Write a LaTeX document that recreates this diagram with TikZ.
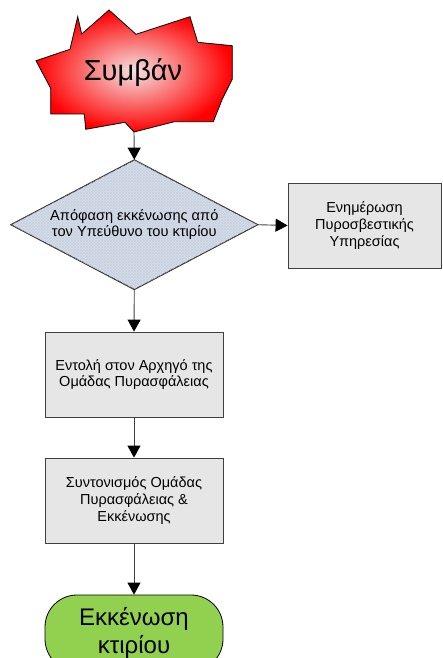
\documentclass[tikz,border=0pt]{standalone}
\usepackage{fontspec}
\setmainfont{Liberation Sans}
\usetikzlibrary{shapes.geometric,arrows.meta,patterns}
\definecolor{linegray}{HTML}{404040}
\definecolor{boxgray}{HTML}{E6E6E6}
\definecolor{diafill}{HTML}{D6DEEA}
\definecolor{diahatch}{HTML}{C8D1DE}
\definecolor{burstin}{HTML}{F4E2E2}
\definecolor{burstout}{HTML}{FF0000}
\definecolor{termgreen}{HTML}{92D050}
\tikzset{
  conn/.style={draw=linegray, line width=0.9pt, -{Triangle[width=13pt,length=12pt,color=black]}},
  procbox/.style={draw=linegray, line width=0.8pt, fill=boxgray, minimum width=178pt, minimum height=85pt, align=center, inner sep=2pt, font=\fontsize{14.5}{16.7}\selectfont},
  decbox/.style={shape=diamond, aspect=1.9, inner sep=0pt, draw=linegray, line width=0.8pt, fill=diafill, minimum width=246.7pt, minimum height=129.3pt},
  dectext/.style={align=center, font=\fontsize{14.6}{16.5}\selectfont},
  termbox/.style={draw=black, line width=0.8pt, fill=termgreen, rounded corners=32pt, minimum width=178pt, minimum height=76pt, align=center, font=\fontsize{24}{28.5}\selectfont},
}
\begin{document}
\begin{tikzpicture}[x=1pt,y=-1pt]
\useasboundingbox (0,0) rectangle (443,658);
% starburst
\draw[draw=black, line width=0.8pt, inner color=burstin, outer color=burstout]
  (36,60.7) -- (70,49.3) -- (77.7,16.7) -- (81.7,34) -- (109,10) -- (136,34.3)
  -- (190,16.7) -- (197.7,42.3) -- (232.3,45.7) -- (232.3,79) -- (222.3,99)
  -- (213.3,121.7) -- (174.3,121.7) -- (134,132) -- (125,122.3) -- (85.7,129.3)
  -- (84.3,114) -- (50.7,114) -- (50.7,88.3) -- cycle;
\node[anchor=base, font=\fontsize{29}{34}\selectfont, inner sep=0pt] (ev) at (133,80.7) {Συμβάν};
\coordinate (evb) at (134,132);
% decision
\node[decbox] (dec) at (134.3,224.7) {};
\path[pattern=crosshatch, pattern color=diahatch]
  (dec.north) -- (dec.east) -- (dec.south) -- (dec.west) -- cycle;
\draw[draw=linegray, line width=0.8pt] (dec.north) -- (dec.east) -- (dec.south) -- (dec.west) -- cycle;
\node[dectext] (dect) at (dec.center) {Απόφαση εκκένωσης από\\τον Υπεύθυνο του κτιρίου};
\node[procbox, minimum width=153pt] (fire) at (364.5,225.5) {Ενημέρωση\\Πυροσβεστικής\\Υπηρεσίας};
\node[procbox] (cmd) at (134,374.5) {Εντολή στον Αρχηγό της\\Ομάδας Πυρασφάλειας};
\node[procbox] (coord) at (134,500.5) {Συντονισμός Ομάδας\\Πυρασφάλειας \&\\Εκκένωσης};
\node[termbox] (evac) at (134,633) {Εκκένωση\\κτιρίου};
% connectors
\draw[conn] (evb) -- (dec.north);
\draw[conn] (dec.east) -- (fire.west);
\draw[conn] (dec.south) -- (cmd.north);
\draw[conn] (cmd.south) -- (coord.north);
\draw[conn] (coord.south) -- (evac.north);
\end{tikzpicture}
\end{document}
